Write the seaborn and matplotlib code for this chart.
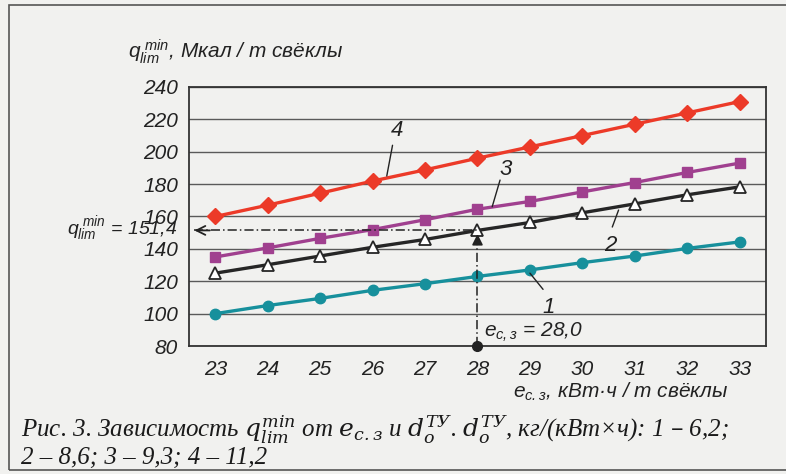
import pandas as pd
import matplotlib
matplotlib.use('Agg')
import matplotlib.pyplot as plt
import seaborn as sns
from matplotlib.patches import Rectangle

# --- data ---
e_sz = [23, 24, 25, 26, 27, 28, 29, 30, 31, 32, 33]
q_curve1 = [100.0, 105.0, 109.4, 114.4, 118.5, 123.0, 127.0, 131.5, 135.6, 140.3, 144.3]
q_curve2 = [125.0, 130.2, 135.6, 141.0, 145.8, 151.4, 156.3, 162.3, 167.8, 173.4, 178.3]
q_curve3 = [135.0, 140.6, 146.5, 151.9, 158.0, 164.5, 169.3, 175.2, 181.0, 187.2, 193.0]
q_curve4 = [160.0, 167.0, 174.4, 181.9, 188.8, 196.0, 203.0, 210.0, 217.0, 224.0, 231.0]
curve_labels = ['1', '2', '3', '4']
y_ticks = [80, 100, 120, 140, 160, 180, 200, 220, 240]
q_point = 151.4
e_point = 28.0

df = pd.DataFrame({
    'e': e_sz * 4,
    'q': q_curve1 + q_curve2 + q_curve3 + q_curve4,
    'curve': sum([[c] * len(e_sz) for c in curve_labels], []),
})

# --- style ---
sns.set_style('white')
plt.rcParams['font.family'] = ['Liberation Sans', 'DejaVu Sans']
plt.rcParams['font.style'] = 'italic'
plt.rcParams['mathtext.fontset'] = 'custom'
plt.rcParams['mathtext.it'] = 'Liberation Sans:italic'
plt.rcParams['mathtext.rm'] = 'Liberation Sans:italic'
plt.rcParams['mathtext.default'] = 'it'

bg = '#f1f1ef'
ink = '#222222'
fig = plt.figure(figsize=(7.86, 4.74), dpi=100, facecolor=bg)
ax = fig.add_axes([0.2405, 0.27, 0.734, 0.5465], facecolor=bg)

styles = {
    '1': dict(color='#17909c', marker='o', ms=7.5, mfc='#17909c', mec='#17909c'),
    '2': dict(color='#262626', marker='^', ms=9, mfc='white', mec='#262626', mew=1.3),
    '3': dict(color='#a0408f', marker='s', ms=7, mfc='#a0408f', mec='#a0408f'),
    '4': dict(color='#ec3a28', marker='D', ms=8, mfc='#ec3a28', mec='#ec3a28'),
}
for c in curve_labels:
    st = styles[c]
    sub = df[df['curve'] == c]
    sns.lineplot(data=sub, x='e', y='q', ax=ax, color=st['color'], lw=2.4,
                 marker=st['marker'], markersize=st['ms'], markerfacecolor=st['mfc'],
                 markeredgecolor=st['mec'], markeredgewidth=st.get('mew', 1),
                 zorder=4, legend=False)

ax.set_xlim(22.5, 33.5)
ax.set_ylim(80, 240)
ax.set_xticks(e_sz)
ax.set_xticks([x + 0.5 for x in e_sz[:-1]], minor=True)
ax.set_yticks(y_ticks)
ax.tick_params(axis='both', which='major', length=0, labelsize=15, colors=ink)
ax.tick_params(axis='x', which='major', pad=10)
ax.tick_params(axis='y', which='major', pad=8)
ax.tick_params(axis='x', which='minor', direction='in', length=7, width=1.2, color=ink)
ax.yaxis.grid(True, color='#5a5a5a', lw=1.0)
ax.set_axisbelow(True)
for s in ax.spines.values():
    s.set_color('#333333')
    s.set_linewidth(1.3)
ax.set_xlabel('')
ax.set_ylabel('')

# --- guide lines at the working point ---
ax.plot([22.6, e_point], [q_point, q_point], ls=(0, (6, 2, 1, 2)), color=ink, lw=1.1, zorder=5)
ax.annotate('', xy=(22.55, q_point), xytext=(22.95, q_point),
            arrowprops=dict(arrowstyle='->', color=ink, lw=1.3, mutation_scale=16), zorder=6)
ax.plot([e_point, e_point], [80, 146], ls=(0, (6, 2, 1, 2)), color=ink, lw=1.1, zorder=5)
ax.annotate('', xy=(e_point, q_point - 0.5), xytext=(e_point, 143),
            arrowprops=dict(arrowstyle='-|>', color=ink, lw=1.2, mutation_scale=16), zorder=6)
ax.plot([e_point], [80], 'o', color=ink, ms=7, clip_on=False, zorder=7)

ax.text(22.28, 149.2, r'$q_{lim}^{\ min}$' + ' = 151,4', ha='right', va='baseline',
        fontsize=14, color=ink, clip_on=False)
ax.text(28.12, 86.0, r'$e_{\mathrm{с,з}}$' + ' = 28,0', ha='left', va='baseline',
        fontsize=15, color=ink)

# curve numbers with leader lines
leaders = {
    '4': ((26.46, 213), (26.38, 204), (26.27, 185)),
    '3': ((28.53, 189), (28.43, 182.5), (28.28, 166)),
    '2': ((30.53, 142), (30.57, 153.5), (30.69, 164)),
    '1': ((29.35, 104), (29.25, 115), (29.0, 125)),
}
for c in curve_labels:
    (tx, ty), p0, p1 = leaders[c]
    ax.text(tx, ty, c, ha='center', va='center', fontsize=16, color=ink, zorder=6)
    ax.plot([p0[0], p1[0]], [p0[1], p1[1]], color=ink, lw=1.0, zorder=6)

# --- axis titles ---
fig.text(0.163, 0.8776, r'$q_{lim}^{\ min}$' + ', Мкал / т свёклы', ha='left', va='baseline',
         fontsize=15, color=ink)
fig.text(0.6527, 0.16, r'$e_{\mathrm{с.з}}$' + ', кВт·ч / т свёклы', ha='left', va='baseline',
         fontsize=15, color=ink)

# --- caption ---
cap1 = (r'Рис. 3. Зависимость $q_{lim}^{min}$ от $e_{\mathrm{с.з}}$ и '
        r'$d_{o}^{\mathrm{ТУ}}$. $d_{o}^{\mathrm{ТУ}}$, кг/(кВт×ч): 1 – 6,2;')
cap2 = '2 – 8,6; 3 – 9,3; 4 – 11,2'
for txt, yb in [(cap1, 1 - 437 / 474), (cap2, 1 - 464 / 474)]:
    fig.text(0.027, yb, txt, ha='left', va='baseline', fontsize=18, color='#1a1a1a',
             family=['Liberation Serif', 'DejaVu Serif'], style='italic',
             math_fontfamily='dejavuserif')

# page frame
fig.patches.append(Rectangle((0.011, 0.008), 1.2, 0.981, transform=fig.transFigure,
                             fill=False, ec='#555555', lw=1.2))

fig.savefig('out.png', dpi=100, facecolor=bg)
